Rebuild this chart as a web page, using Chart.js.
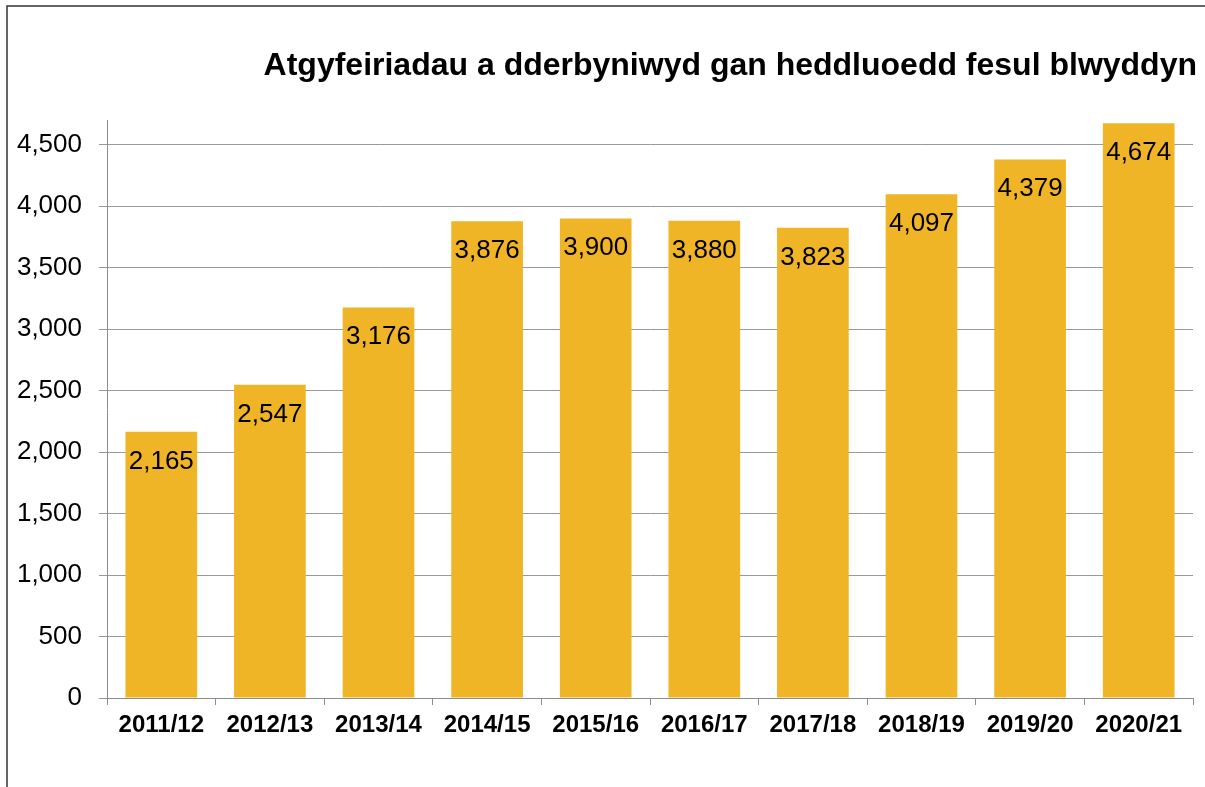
<!DOCTYPE html>
<html>
<head>
<meta charset="utf-8">
<script src="https://cdn.jsdelivr.net/npm/chart.js@4.4.0/dist/chart.umd.min.js"></script>
<style>
html,body{margin:0;padding:0;background:#fff;overflow:hidden;}
#wrap{position:absolute;left:0;top:0;width:1205px;height:787px;}
</style>
</head>
<body>
<div id="wrap"><canvas id="c" width="1205" height="787"></canvas></div>
<script>
const chartTitle = 'Atgyfeiriadau a dderbyniwyd gan heddluoedd fesul blwyddyn';
const categories = ['2011/12','2012/13','2013/14','2014/15','2015/16','2016/17','2017/18','2018/19','2019/20','2020/21'];
const referrals = [2165, 2547, 3176, 3876, 3900, 3880, 3823, 4097, 4379, 4674];
const yTickValues = [0, 500, 1000, 1500, 2000, 2500, 3000, 3500, 4000, 4500];

const fmt = v => Number(v).toLocaleString('en-US');

const decor = {
  id: 'decor',
  beforeDraw(chart) {
    const ctx = chart.ctx;
    ctx.save();
    ctx.fillStyle = '#fff';
    ctx.fillRect(0, 0, chart.width, chart.height);
    ctx.strokeStyle = '#333';
    ctx.lineWidth = 1.5;
    ctx.beginPath();
    ctx.moveTo(7, chart.height);
    ctx.lineTo(7, 6);
    ctx.lineTo(chart.width, 6);
    ctx.stroke();
    ctx.fillStyle = '#000';
    ctx.font = 'bold 32px "Liberation Sans", Arial, sans-serif';
    ctx.textAlign = 'right';
    ctx.textBaseline = 'alphabetic';
    ctx.fillText(chartTitle, 1197, 75);
    ctx.restore();
  },
  afterDatasetsDraw(chart) {
    const ctx = chart.ctx;
    const meta = chart.getDatasetMeta(0);
    ctx.save();
    ctx.fillStyle = '#000';
    ctx.font = '26px "Liberation Sans", Arial, sans-serif';
    ctx.textAlign = 'center';
    ctx.textBaseline = 'alphabetic';
    meta.data.forEach((bar, i) => {
      ctx.fillText(fmt(chart.data.datasets[0].data[i]), bar.x, bar.y + 37);
    });
    ctx.restore();
  }
};

new Chart(document.getElementById('c'), {
  type: 'bar',
  data: {
    labels: categories,
    datasets: [{
      data: referrals,
      backgroundColor: '#F0B427',
      borderWidth: 0,
      categoryPercentage: 1.0,
      barPercentage: 0.66
    }]
  },
  options: {
    responsive: false,
    animation: false,
    events: [],
    layout: { padding: { top: 120, right: 12, left: 0, bottom: 0 } },
    plugins: { legend: { display: false }, tooltip: { enabled: false }, title: { display: false } },
    scales: {
      x: {
        offset: true,
        grid: { offset: true, drawOnChartArea: false, drawTicks: true, tickLength: 7, color: '#8c8c8c', lineWidth: 1 },
        border: { color: '#8c8c8c', width: 1 },
        ticks: { color: '#000', font: { family: '"Liberation Sans", Arial, sans-serif', size: 24, weight: 'bold' }, padding: 6, maxRotation: 0, autoSkip: false },
        afterFit(s) { s.height = 89; }
      },
      y: {
        min: 0,
        max: 4700,
        afterBuildTicks(axis) { axis.ticks = yTickValues.map(v => ({ value: v })); },
        grid: { color: '#999', lineWidth: 1, tickLength: 8 },
        border: { color: '#8c8c8c', width: 1 },
        ticks: { color: '#000', font: { family: '"Liberation Sans", Arial, sans-serif', size: 26 }, padding: 17, callback: v => fmt(v) },
        afterFit(s) { s.width = 107; }
      }
    }
  },
  plugins: [decor]
});
</script>
</body>
</html>
